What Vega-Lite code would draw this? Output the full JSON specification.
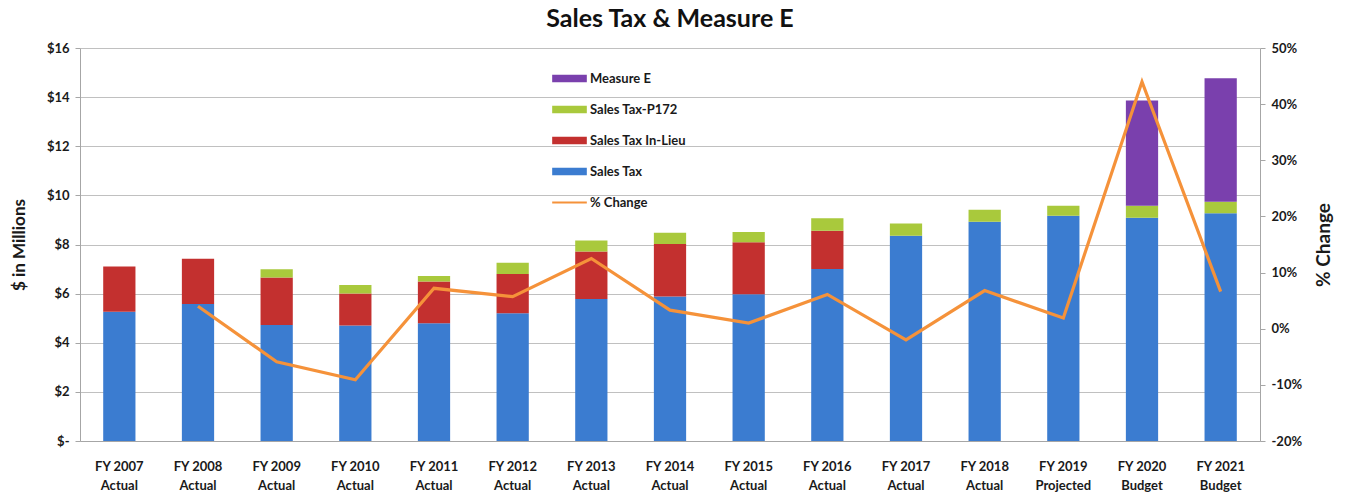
{
  "$schema": "https://vega.github.io/schema/vega-lite/v6.json",
  "width": 1180,
  "height": 393,
  "autosize": "none",
  "padding": {"left": 80, "top": 48, "right": 87, "bottom": 54},
  "background": "white",
  "config": {
    "font": "Lato",
    "view": {"stroke": null},
    "axis": {"labelFont": "Lato", "titleFont": "Lato", "labelColor": "#1a1a1a", "titleColor": "#1a1a1a", "domainColor": "#a6a6a6", "tickColor": "#a6a6a6", "gridColor": "#c0c0c0"}
  },
  "title": {"text": "Sales Tax & Measure E", "fontSize": 25, "fontWeight": "bold", "font": "Lato", "color": "#111", "offset": 10, "anchor": "middle"},
  "data": {"values": [
    {"fy": "FY 2007 Actual", "Sales Tax": 5.26, "Sales Tax In-Lieu": 1.84, "Sales Tax-P172": 0, "Measure E": 0, "pct": null},
    {"fy": "FY 2008 Actual", "Sales Tax": 5.58, "Sales Tax In-Lieu": 1.84, "Sales Tax-P172": 0, "Measure E": 0, "pct": 4.0},
    {"fy": "FY 2009 Actual", "Sales Tax": 4.72, "Sales Tax In-Lieu": 1.94, "Sales Tax-P172": 0.33, "Measure E": 0, "pct": -5.9},
    {"fy": "FY 2010 Actual", "Sales Tax": 4.70, "Sales Tax In-Lieu": 1.31, "Sales Tax-P172": 0.34, "Measure E": 0, "pct": -9.1},
    {"fy": "FY 2011 Actual", "Sales Tax": 4.79, "Sales Tax In-Lieu": 1.70, "Sales Tax-P172": 0.23, "Measure E": 0, "pct": 7.2},
    {"fy": "FY 2012 Actual", "Sales Tax": 5.20, "Sales Tax In-Lieu": 1.60, "Sales Tax-P172": 0.46, "Measure E": 0, "pct": 5.7},
    {"fy": "FY 2013 Actual", "Sales Tax": 5.78, "Sales Tax In-Lieu": 1.93, "Sales Tax-P172": 0.45, "Measure E": 0, "pct": 12.5},
    {"fy": "FY 2014 Actual", "Sales Tax": 5.88, "Sales Tax In-Lieu": 2.14, "Sales Tax-P172": 0.46, "Measure E": 0, "pct": 3.3},
    {"fy": "FY 2015 Actual", "Sales Tax": 5.97, "Sales Tax In-Lieu": 2.12, "Sales Tax-P172": 0.42, "Measure E": 0, "pct": 1.0},
    {"fy": "FY 2016 Actual", "Sales Tax": 7.00, "Sales Tax In-Lieu": 1.56, "Sales Tax-P172": 0.51, "Measure E": 0, "pct": 6.1},
    {"fy": "FY 2017 Actual", "Sales Tax": 8.36, "Sales Tax In-Lieu": 0, "Sales Tax-P172": 0.50, "Measure E": 0, "pct": -2.0},
    {"fy": "FY 2018 Actual", "Sales Tax": 8.93, "Sales Tax In-Lieu": 0, "Sales Tax-P172": 0.48, "Measure E": 0, "pct": 6.8},
    {"fy": "FY 2019 Projected", "Sales Tax": 9.17, "Sales Tax In-Lieu": 0, "Sales Tax-P172": 0.41, "Measure E": 0, "pct": 1.9},
    {"fy": "FY 2020 Budget", "Sales Tax": 9.09, "Sales Tax In-Lieu": 0, "Sales Tax-P172": 0.49, "Measure E": 4.28, "pct": 44.0},
    {"fy": "FY 2021 Budget", "Sales Tax": 9.27, "Sales Tax In-Lieu": 0, "Sales Tax-P172": 0.47, "Measure E": 5.03, "pct": 6.6}
  ]},
  "encoding": {
    "x": {
      "field": "fy", "type": "nominal", "sort": null,
      "scale": {"paddingInner": 0.59, "paddingOuter": 0.295},
      "axis": {"title": null, "labelAngle": 0, "labelFontSize": 13, "labelFontWeight": "bold", "labelPadding": 19, "labelLineHeight": 19, "ticks": false, "domain": true, "labelExpr": "[slice(datum.label, 0, 7), slice(datum.label, 8)]"}
    }
  },
  "layer": [
    {
      "transform": [
        {"fold": ["Sales Tax", "Sales Tax In-Lieu", "Sales Tax-P172", "Measure E"], "as": ["series", "value"]},
        {"calculate": "indexof(['Sales Tax', 'Sales Tax In-Lieu', 'Sales Tax-P172', 'Measure E'], datum.series)", "as": "ord"}
      ],
      "mark": {"type": "bar"},
      "encoding": {
        "y": {
          "field": "value", "type": "quantitative", "stack": "zero",
          "scale": {"domain": [0, 16], "nice": false},
          "axis": {"title": "$ in Millions", "titleFontSize": 17, "titleFontWeight": "bold", "titlePadding": 18, "values": [0, 2, 4, 6, 8, 10, 12, 14, 16], "labelExpr": "datum.value == 0 ? '$-' : '$' + datum.value", "labelFontSize": 13, "labelFontWeight": "bold", "labelPadding": 6, "tickSize": 5, "grid": true, "domain": true}
        },
        "color": {
          "field": "series", "type": "nominal",
          "scale": {"domain": ["Measure E", "Sales Tax-P172", "Sales Tax In-Lieu", "Sales Tax", "% Change"], "range": ["#7a40ad", "#a9c93c", "#c3302f", "#3b7cd0", "#f5923a"]},
          "legend": {
            "title": null, "orient": "none", "legendX": 472, "legendY": 13, "direction": "vertical",
            "labelFontSize": 13, "labelFontWeight": "bold", "labelColor": "#1a1a1a", "labelOffset": 3, "rowPadding": 6,
            "symbolType": "M-1,-0.22H1V0.22H-1Z", "symbolSize": 1200, "symbolStrokeWidth": 0,
            "encode": {"symbols": {"update": {"shape": {"signal": "datum.value === '% Change' ? 'M-1,-0.06H1V0.06H-1Z' : 'M-1,-0.22H1V0.22H-1Z'"}, "fill": {"scale": "color", "field": "value"}, "strokeWidth": {"value": 0}}}}
          }
        },
        "order": {"field": "ord", "type": "quantitative"}
      }
    },
    {
      "transform": [{"filter": "isValid(datum.pct)"}],
      "mark": {"type": "line", "strokeWidth": 3.2},
      "encoding": {
        "y": {
          "field": "pct", "type": "quantitative",
          "scale": {"domain": [-20, 50], "nice": false},
          "axis": {"orient": "right", "title": "% Change", "titleAngle": 270, "titleFontSize": 19, "titleFontWeight": "bold", "titlePadding": 32, "values": [-20, -10, 0, 10, 20, 30, 40, 50], "labelExpr": "datum.value + '%'", "labelFontSize": 13, "labelFontWeight": "bold", "labelPadding": 6, "tickSize": 5, "grid": false, "domain": true}
        },
        "color": {"datum": "% Change"}
      }
    }
  ],
  "resolve": {"scale": {"y": "independent"}}
}
